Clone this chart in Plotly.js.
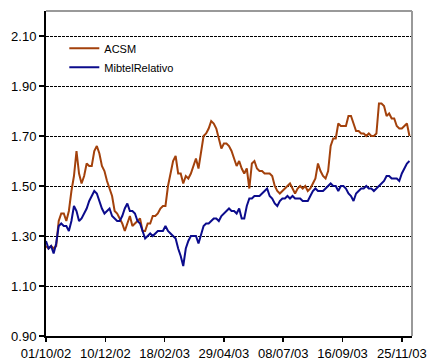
<!DOCTYPE html>
<html>
<head>
<meta charset="utf-8">
<script src="https://cdn.plot.ly/plotly-3.0.1.min.js"></script>
<style>html,body{margin:0;padding:0;background:#fff;}#chart{width:430px;height:360px;}</style>
</head>
<body>
<div id="chart"></div>
<script>
var dates = ["2002-10-01","2002-10-04","2002-10-07","2002-10-10","2002-10-13","2002-10-16","2002-10-19","2002-10-22","2002-10-25","2002-10-28",
"2002-10-31","2002-11-03","2002-11-06","2002-11-09","2002-11-12","2002-11-15","2002-11-18","2002-11-21","2002-11-24","2002-11-27",
"2002-11-30","2002-12-03","2002-12-06","2002-12-09","2002-12-12","2002-12-15","2002-12-18","2002-12-21","2002-12-24","2002-12-27",
"2002-12-30","2003-01-02","2003-01-05","2003-01-08","2003-01-11","2003-01-14","2003-01-17","2003-01-20","2003-01-23","2003-01-26",
"2003-01-29","2003-02-01","2003-02-04","2003-02-07","2003-02-10","2003-02-13","2003-02-16","2003-02-19","2003-02-22","2003-02-25",
"2003-02-28","2003-03-03","2003-03-06","2003-03-09","2003-03-12","2003-03-15","2003-03-18","2003-03-21","2003-03-24","2003-03-27",
"2003-03-30","2003-04-02","2003-04-05","2003-04-08","2003-04-11","2003-04-14","2003-04-17","2003-04-20","2003-04-23","2003-04-26",
"2003-04-29","2003-05-02","2003-05-05","2003-05-08","2003-05-11","2003-05-14","2003-05-17","2003-05-20","2003-05-23","2003-05-26",
"2003-05-29","2003-06-01","2003-06-04","2003-06-07","2003-06-10","2003-06-13","2003-06-16","2003-06-19","2003-06-22","2003-06-25",
"2003-06-28","2003-07-01","2003-07-04","2003-07-07","2003-07-10","2003-07-13","2003-07-16","2003-07-19","2003-07-22","2003-07-25",
"2003-07-28","2003-07-31","2003-08-03","2003-08-06","2003-08-09","2003-08-12","2003-08-15","2003-08-18","2003-08-21","2003-08-24",
"2003-08-27","2003-08-30","2003-09-02","2003-09-05","2003-09-08","2003-09-11","2003-09-14","2003-09-17","2003-09-20","2003-09-23",
"2003-09-26","2003-09-29","2003-10-02","2003-10-05","2003-10-08","2003-10-11","2003-10-14","2003-10-17","2003-10-20","2003-10-23",
"2003-10-26","2003-10-29","2003-11-01","2003-11-04","2003-11-07","2003-11-10","2003-11-13","2003-11-16","2003-11-19","2003-11-22",
"2003-11-25","2003-11-28","2003-12-01","2003-12-04"];

var acsm = [1.26,1.25,1.26,1.25,1.26,1.36,1.39,1.39,1.36,1.40,
1.48,1.54,1.64,1.55,1.51,1.54,1.59,1.58,1.58,1.64,
1.66,1.63,1.58,1.56,1.52,1.49,1.46,1.40,1.39,1.37,
1.35,1.32,1.35,1.38,1.34,1.35,1.36,1.37,1.32,1.32,
1.35,1.35,1.38,1.38,1.39,1.41,1.42,1.42,1.50,1.55,
1.60,1.62,1.55,1.55,1.51,1.54,1.53,1.55,1.58,1.61,
1.57,1.64,1.70,1.71,1.73,1.76,1.75,1.73,1.69,1.65,
1.67,1.67,1.66,1.64,1.61,1.58,1.60,1.57,1.55,1.57,
1.49,1.59,1.60,1.57,1.56,1.56,1.55,1.55,1.55,1.54,
1.50,1.48,1.47,1.48,1.49,1.50,1.51,1.49,1.47,1.49,
1.50,1.49,1.50,1.48,1.49,1.51,1.53,1.59,1.56,1.54,
1.53,1.56,1.66,1.69,1.69,1.75,1.74,1.74,1.74,1.78,
1.78,1.75,1.72,1.72,1.71,1.71,1.70,1.71,1.70,1.70,
1.71,1.83,1.83,1.82,1.78,1.79,1.77,1.77,1.74,1.73,
1.73,1.74,1.75,1.70];

var mibtel = [1.28,1.25,1.26,1.23,1.27,1.34,1.35,1.34,1.34,1.32,
1.36,1.42,1.40,1.36,1.37,1.39,1.41,1.44,1.46,1.48,
1.47,1.44,1.41,1.39,1.40,1.41,1.38,1.37,1.36,1.36,
1.38,1.41,1.43,1.40,1.40,1.39,1.36,1.35,1.32,1.29,
1.30,1.31,1.30,1.31,1.32,1.32,1.32,1.34,1.32,1.31,
1.30,1.29,1.25,1.22,1.18,1.25,1.28,1.30,1.30,1.30,
1.27,1.31,1.34,1.35,1.35,1.36,1.37,1.37,1.36,1.38,
1.39,1.40,1.41,1.40,1.40,1.39,1.41,1.37,1.37,1.42,
1.45,1.45,1.46,1.46,1.46,1.47,1.48,1.49,1.46,1.45,
1.43,1.42,1.44,1.45,1.45,1.46,1.45,1.46,1.45,1.45,
1.45,1.44,1.44,1.44,1.46,1.48,1.49,1.48,1.48,1.48,
1.49,1.50,1.51,1.50,1.50,1.48,1.50,1.50,1.49,1.47,
1.46,1.44,1.47,1.48,1.49,1.49,1.50,1.49,1.49,1.48,
1.49,1.50,1.51,1.52,1.54,1.54,1.53,1.53,1.53,1.52,
1.55,1.57,1.59,1.60];

var seriesNames = ["ACSM", "MibtelRelativo"];
var xTickDates = ["2002-10-01","2002-12-10","2003-02-18","2003-04-29","2003-07-08","2003-09-16","2003-11-25"];
var xTickLabels = ["01/10/02","10/12/02","18/02/03","29/04/03","08/07/03","16/09/03","25/11/03"];
var yTickVals = [0.90,1.10,1.30,1.50,1.70,1.90,2.10];

var FONT = "Arial, 'Liberation Sans', sans-serif";

var traces = [
  {x: dates, y: acsm, name: seriesNames[0], type: "scatter", mode: "lines",
   line: {color: "#A3410B", width: 2}},
  {x: dates, y: mibtel, name: seriesNames[1], type: "scatter", mode: "lines",
   line: {color: "#0B0B8C", width: 2}}
];

var layout = {
  width: 430, height: 360,
  margin: {l: 46, r: 18, t: 11, b: 24, pad: 0},
  paper_bgcolor: "#ffffff", plot_bgcolor: "#ffffff",
  font: {family: FONT, size: 13, color: "#000"},
  showlegend: true,
  legend: {x: 0.05, y: 0.93, xanchor: "left", yanchor: "top",
           bgcolor: "rgba(0,0,0,0)", font: {family: FONT, size: 11, color: "#000"},
           tracegroupgap: 0, itemwidth: 30},
  xaxis: {type: "date", range: ["2002-10-01", "2003-12-07"],
          tickvals: xTickDates, ticktext: xTickLabels,
          ticks: "outside", ticklen: 4, tickwidth: 1.5, tickcolor: "#000",
          showgrid: false, zeroline: false,
          showline: true, linecolor: "#000", linewidth: 2,
          tickfont: {family: FONT, size: 13, color: "#000"}},
  yaxis: {range: [0.90, 2.20], tickvals: yTickVals, tickformat: ".2f",
          ticks: "outside", ticklen: 5, tickwidth: 1.5, tickcolor: "#000",
          showgrid: true, gridcolor: "#000", gridwidth: 1, griddash: "3px,1px",
          zeroline: false,
          showline: true, linecolor: "#000", linewidth: 2,
          tickfont: {family: FONT, size: 13, color: "#000"}},
  shapes: [
    {type: "line", xref: "paper", yref: "paper", x0: 0, x1: 1, y0: 1, y1: 1,
     line: {color: "#999", width: 2}},
    {type: "line", xref: "paper", yref: "paper", x0: 1, x1: 1, y0: 0, y1: 1,
     line: {color: "#999", width: 2}}
  ]
};

Plotly.newPlot("chart", traces, layout, {displayModeBar: false, staticPlot: true});
</script>
</body>
</html>
